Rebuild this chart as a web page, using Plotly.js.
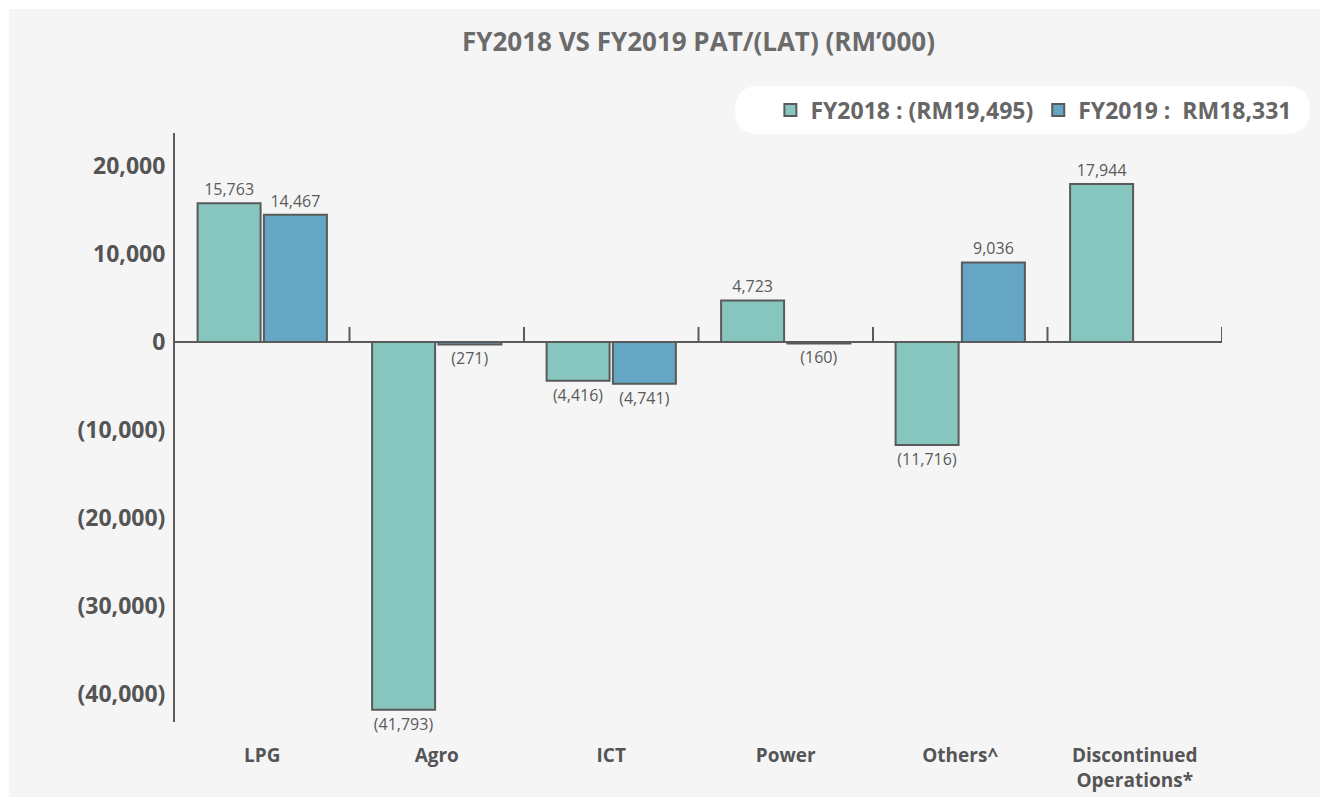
<!DOCTYPE html>
<html>
<head>
<meta charset="utf-8">
<script src="https://cdn.plot.ly/plotly-3.0.1.min.js"></script>
<style>html,body{margin:0;padding:0;background:#fff;}</style>
</head>
<body>
<div id="chart" style="width:1323px;height:799px;"></div>
<script>
const categories = ["LPG", "Agro", "ICT", "Power", "Others^", "Discontinued<br>Operations*"];
const fy2018Values = [15763, -41793, -4416, 4723, -11716, 17944];
const fy2019Values = [14467, -271, -4741, -160, 9036, null];
const fy2018Labels = ["15,763", "(41,793)", "(4,416)", "4,723", "(11,716)", "17,944"];
const fy2019Labels = ["14,467", "(271)", "(4,741)", "(160)", "9,036", ""];
const seriesNames = ["FY2018 : (RM19,495)", "FY2019 :  RM18,331"];
const yTickVals = [20000, 10000, 0, -10000, -20000, -30000, -40000];
const yTickText = ["20,000", "10,000", "0", "(10,000)", "(20,000)", "(30,000)", "(40,000)"];

const FONT = "'Open Sans', Lato, sans-serif";
const textFont = {family: FONT, size: 16, color: "#5a5a5a"};

const traces = [
  {
    type: "bar", name: seriesNames[0], x: categories, y: fy2018Values,
    text: fy2018Labels, textposition: "outside", textfont: textFont,
    marker: {color: "#87c5bf", line: {color: "#5a5a5a", width: 2}},
    cliponaxis: false, hoverinfo: "x+y"
  },
  {
    type: "bar", name: seriesNames[1], x: categories, y: fy2019Values,
    text: fy2019Labels, textposition: "outside", textfont: textFont,
    marker: {color: "#64a6c3", line: {color: "#5a5a5a", width: 2}},
    cliponaxis: false, hoverinfo: "x+y"
  }
];

const shapes = [
  {type: "rect", xref: "paper", yref: "paper", x0: -0.1585, x1: 1.0936, y0: -0.1273, y1: 1.2105,
   fillcolor: "#f5f5f5", line: {width: 0}, layer: "below"},
  {type: "path", xref: "paper", yref: "paper", layer: "below",
   path: "M0.5578,1.0798 L1.0611,1.0798 Q1.0840,1.0798 1.0840,1.03905 Q1.0840,0.9983 1.0611,0.9983 L0.5578,0.9983 Q0.5349,0.9983 0.5349,1.03905 Q0.5349,1.0798 0.5578,1.0798 Z",
   fillcolor: "#ffffff", line: {width: 0}}
];
for (let i = 0; i < categories.length; i++) {
  shapes.push({type: "line", xref: "x", yref: "y", ysizemode: "pixel", yanchor: 0,
    x0: i + 0.5, x1: i + 0.5, y0: 0, y1: 15, line: {color: "#5a5a5a", width: 2}, layer: "above"});
}

const layout = {
  width: 1323, height: 799,
  margin: {l: 175, r: 101, t: 133, b: 77},
  paper_bgcolor: "#ffffff",
  plot_bgcolor: "rgba(0,0,0,0)",
  title: {
    text: "<b>FY2018 VS FY2019 PAT/(LAT) (RM’000)</b>",
    font: {family: FONT, size: 26, color: "#6b6b6b"},
    x: 0.5, xref: "paper", xanchor: "center", y: 0.947, yref: "container", yanchor: "middle"
  },
  barmode: "group",
  bargap: 0.24,
  bargroupgap: 0.05,
  showlegend: true,
  legend: {
    orientation: "h", x: 1.072, xanchor: "right", y: 1.039, yanchor: "middle",
    bgcolor: "rgba(0,0,0,0)", traceorder: "normal",
    font: {family: FONT, size: 23, color: "#666666", weight: "bold"}
  },
  xaxis: {
    type: "category",
    showline: false, showgrid: false, zeroline: false,
    ticks: "", ticklabelstandoff: 20,
    tickfont: {family: FONT, size: 19, color: "#555555", weight: "bold"},
    range: [-0.5, 5.5], fixedrange: true
  },
  yaxis: {
    range: [-43180, 23750],
    showline: true, linecolor: "#5a5a5a", linewidth: 2,
    showgrid: false,
    zeroline: true, zerolinecolor: "#5a5a5a", zerolinewidth: 2,
    tickvals: yTickVals, ticktext: yTickText,
    ticks: "", ticklabelstandoff: 3,
    tickfont: {family: FONT, size: 23, color: "#555555", weight: "bold"},
    fixedrange: true
  },
  shapes: shapes
};

Plotly.newPlot("chart", traces, layout, {displayModeBar: false, staticPlot: true});
</script>
</body>
</html>
